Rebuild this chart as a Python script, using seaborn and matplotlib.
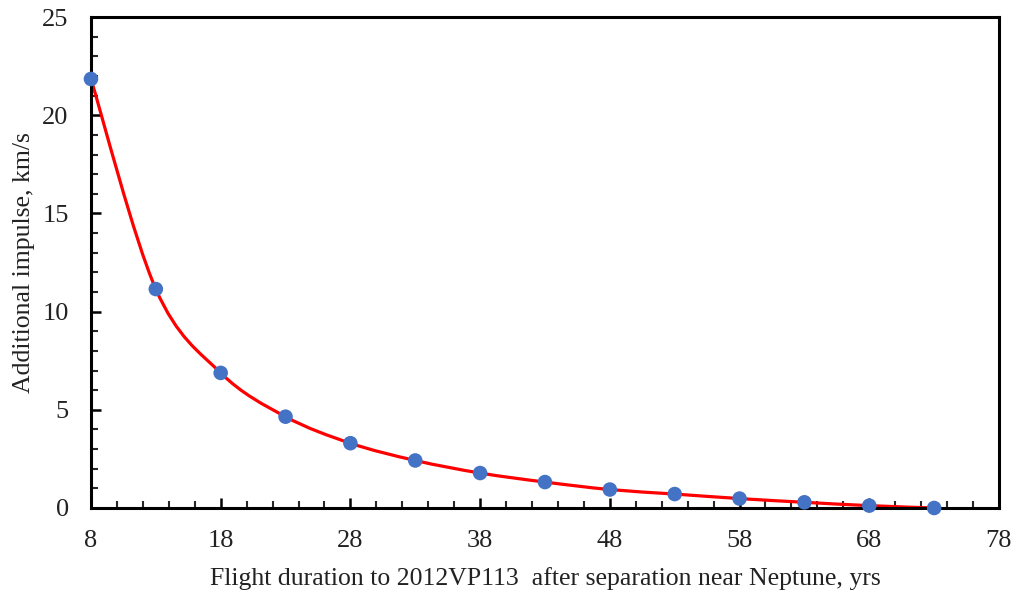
import numpy as np
import pandas as pd
import matplotlib
matplotlib.use("Agg")
import matplotlib.pyplot as plt
from matplotlib.path import Path
from matplotlib.patches import PathPatch
from matplotlib.ticker import MultipleLocator
import seaborn as sns

# Data
duration_yrs = [8, 13, 18, 23, 28, 33, 38, 43, 48, 53, 58, 63, 68, 73]
impulse_kms = [21.85, 11.15, 6.88, 4.65, 3.3, 2.42, 1.78, 1.32, 0.94, 0.71, 0.48, 0.29, 0.12, 0.0]
x_ticks = [8, 18, 28, 38, 48, 58, 68, 78]
y_ticks = [0, 5, 10, 15, 20, 25]
x_label = "Flight duration to 2012VP113  after separation near Neptune, yrs"
y_label = "Additional impulse, km/s"

df = pd.DataFrame({"x": duration_yrs, "y": impulse_kms})

sns.set_theme(style="white")
plt.rcParams["font.family"] = ["Liberation Serif", "DejaVu Serif"]

fig = plt.figure(figsize=(10.14, 5.9), dpi=100)
ax = fig.add_axes([0.0897, 0.139, 0.8955, 0.832])

# Smoothed line (Excel-like Catmull-Rom Bezier through the data points)
xs = np.array(duration_yrs, float)
ys = np.array(impulse_kms, float)
n = len(xs)
verts = [(xs[0], ys[0])]
codes = [Path.MOVETO]
t = 1.0 / 6.0
for i in range(n - 1):
    p0 = np.array([xs[max(i - 1, 0)], ys[max(i - 1, 0)]])
    p1 = np.array([xs[i], ys[i]])
    p2 = np.array([xs[i + 1], ys[i + 1]])
    p3 = np.array([xs[min(i + 2, n - 1)], ys[min(i + 2, n - 1)]])
    c1 = p1 + (p2 - p0) * t
    c2 = p2 - (p3 - p1) * t
    verts += [tuple(c1), tuple(c2), tuple(p2)]
    codes += [Path.CURVE4] * 3
ax.add_patch(PathPatch(Path(verts, codes), facecolor="none", edgecolor="#FF0000",
                       lw=2.3, zorder=2, clip_on=False))

sns.scatterplot(data=df, x="x", y="y", ax=ax, color="#4472C4", s=110,
                edgecolor="none", zorder=3, clip_on=False)

ax.set_xlim(8, 78)
ax.set_ylim(0, 25)
ax.set_xticks(x_ticks)
ax.set_yticks(y_ticks)
ax.xaxis.set_minor_locator(MultipleLocator(2))
ax.yaxis.set_minor_locator(MultipleLocator(1))
ax.tick_params(axis="both", which="major", direction="in", length=7, width=1.8,
               labelsize=19, colors="black", bottom=True, left=True)
ax.tick_params(axis="x", which="major", pad=16)
ax.tick_params(axis="y", which="major", pad=16)
ax.tick_params(axis="both", which="minor", direction="in", length=5, width=1.5,
               bottom=True, left=True)
for lab in ax.get_xticklabels() + ax.get_yticklabels():
    lab.set_color("#222222")
for sp in ax.spines.values():
    sp.set_visible(True)
    sp.set_color("black")
    sp.set_linewidth(2.2)

ax.set_xlabel(x_label, fontsize=18.5, color="#222222", labelpad=11)
ax.set_ylabel(y_label, fontsize=18.5, color="#222222", labelpad=5)
ax.grid(False)

fig.savefig("out.png", dpi=100)
